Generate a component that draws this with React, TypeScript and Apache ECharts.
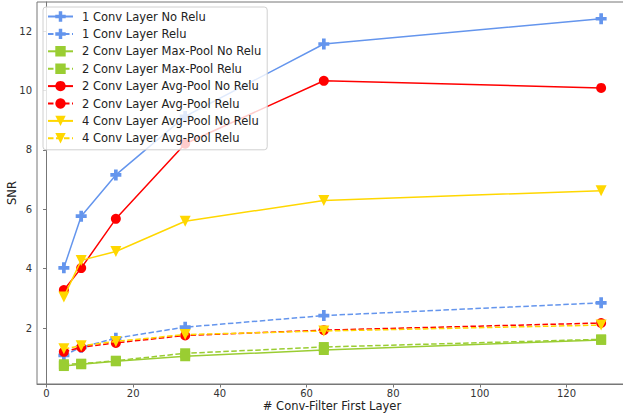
import React, { useEffect, useRef } from "react";
import * as echarts from "echarts";

const xValues = [4, 8, 16, 32, 64, 128];
const seriesNames = [
  "1 Conv Layer No Relu",
  "1 Conv Layer Relu",
  "2 Conv Layer Max-Pool No Relu",
  "2 Conv Layer Max-Pool Relu",
  "2 Conv Layer Avg-Pool No Relu",
  "2 Conv Layer Avg-Pool Relu",
  "4 Conv Layer Avg-Pool No Relu",
  "4 Conv Layer Avg-Pool Relu",
];
const conv1NoRelu = [4.03, 5.77, 7.16, 9.13, 11.57, 12.42];
const conv1Relu = [1.08, 1.35, 1.66, 2.03, 2.42, 2.85];
const maxPoolNoRelu = [0.72, 0.78, 0.88, 1.05, 1.26, 1.6];
const maxPoolRelu = [0.78, 0.8, 0.9, 1.15, 1.36, 1.62];
const avgPoolNoRelu = [3.28, 4.02, 5.68, 8.21, 10.33, 10.09];
const avgPoolRelu = [1.2, 1.35, 1.5, 1.75, 1.93, 2.17];
const conv4NoRelu = [3.05, 4.28, 4.58, 5.6, 6.3, 6.63];
const conv4Relu = [1.3, 1.4, 1.55, 1.78, 1.9, 2.1];
const xTicks = [0, 20, 40, 60, 80, 100, 120];
const yTicks = [2, 4, 6, 8, 10, 12];
const xTitle = "# Conv-Filter First Layer";
const yTitle = "SNR";

const allValues = [
  conv1NoRelu,
  conv1Relu,
  maxPoolNoRelu,
  maxPoolRelu,
  avgPoolNoRelu,
  avgPoolRelu,
  conv4NoRelu,
  conv4Relu,
];
const colors = ["#6495ED", "#6495ED", "#9ACD32", "#9ACD32", "#FF0000", "#FF0000", "#FFD700", "#FFD700"];
const PLUS = "path://M4,0H8V4H12V8H8V12H4V8H0V4H4Z";
const symbols = [PLUS, PLUS, "rect", "rect", "circle", "circle", "triangle", "triangle"];
const symbolSizes = [11, 11, 10, 10, 10, 10, 11, 11];
const rotations = [0, 0, 0, 0, 0, 0, 180, 180];
const FONT = "DejaVu Sans";

export default function App() {
  const ref = useRef<HTMLDivElement>(null);
  useEffect(() => {
    if (!ref.current) return;
    const chart = echarts.init(ref.current, null, { renderer: "svg" });
    const series = seriesNames.map((name, k) => ({
      name,
      type: "line",
      data: xValues.map((x, i) => [x, allValues[k][i]]),
      symbol: symbols[k],
      symbolSize: symbolSizes[k],
      symbolRotate: rotations[k],
      symbolKeepAspect: true,
      showAllSymbol: true,
      color: colors[k],
      itemStyle: { color: colors[k], borderWidth: 0 },
      lineStyle: {
        color: colors[k],
        width: 1.5,
        type: k % 2 === 1 ? [5.5, 2.5] : "solid",
      },
      emphasis: { disabled: true },
      z: 2 + k,
    }));
    chart.setOption({
      animation: false,
      textStyle: { fontFamily: FONT },
      grid: {
        left: 37,
        top: 2,
        bottom: 30,
        right: -5,
        outerBoundsMode: "none",
        containLabel: false,
        show: true,
        borderColor: "#777",
        borderWidth: 1,
        backgroundColor: "transparent",
      },
      graphic: [
        {
          type: "text",
          x: 332,
          y: 405.5,
          style: {
            text: xTitle,
            font: `11.5px "${FONT}"`,
            fill: "#222",
            align: "center",
            verticalAlign: "middle",
          },
        },
        {
          type: "text",
          x: 12,
          y: 193,
          rotation: Math.PI / 2,
          style: {
            text: yTitle,
            font: `11.5px "${FONT}"`,
            fill: "#222",
            align: "center",
            verticalAlign: "middle",
          },
        },
      ],
      legend: {
        orient: "vertical",
        left: 43,
        top: 7,
        padding: [3, 6, 5, 4],
        itemWidth: 25,
        itemHeight: 13,
        itemGap: 4.4,
        backgroundColor: "rgba(255,255,255,0.8)",
        borderColor: "#d0d0d0",
        borderWidth: 1,
        borderRadius: 3,
        textStyle: {
          fontFamily: FONT,
          fontSize: 11.5,
          color: "#222",
          lineHeight: 13,
          padding: [0, 0, 0, 4],
        },
        data: seriesNames,
        z: 20,
      },
      xAxis: {
        type: "value",
        min: -2.2,
        max: 134.2,
        minInterval: 20,
        maxInterval: 20,
        axisLine: { show: true, lineStyle: { color: "#777", width: 1 } },
        axisTick: { show: true, length: 3.5, customValues: xTicks, lineStyle: { color: "#777" } },
        axisLabel: {
          customValues: xTicks,
          fontFamily: FONT,
          fontSize: 10,
          color: "#333",
          margin: 4,
          formatter: (v: number) => (xTicks.includes(v) ? String(v) : ""),
        },
        splitLine: { show: false },
      },
      yAxis: {
        type: "value",
        min: 0.115,
        max: 12.985,
        minInterval: 2,
        maxInterval: 2,
        axisLine: { show: true, lineStyle: { color: "#777", width: 1 } },
        axisTick: { show: true, length: 3.5, customValues: yTicks, lineStyle: { color: "#777" } },
        axisLabel: {
          customValues: yTicks,
          fontFamily: FONT,
          fontSize: 10,
          color: "#333",
          margin: 5,
          formatter: (v: number) => (yTicks.includes(v) ? String(v) : ""),
        },
        splitLine: { show: false },
      },
      series,
    });
    return () => chart.dispose();
  }, []);
  return (
    <div
      ref={ref}
      style={{ position: "absolute", left: 0, top: 0, width: 623, height: 414, background: "#fff" }}
    />
  );
}
